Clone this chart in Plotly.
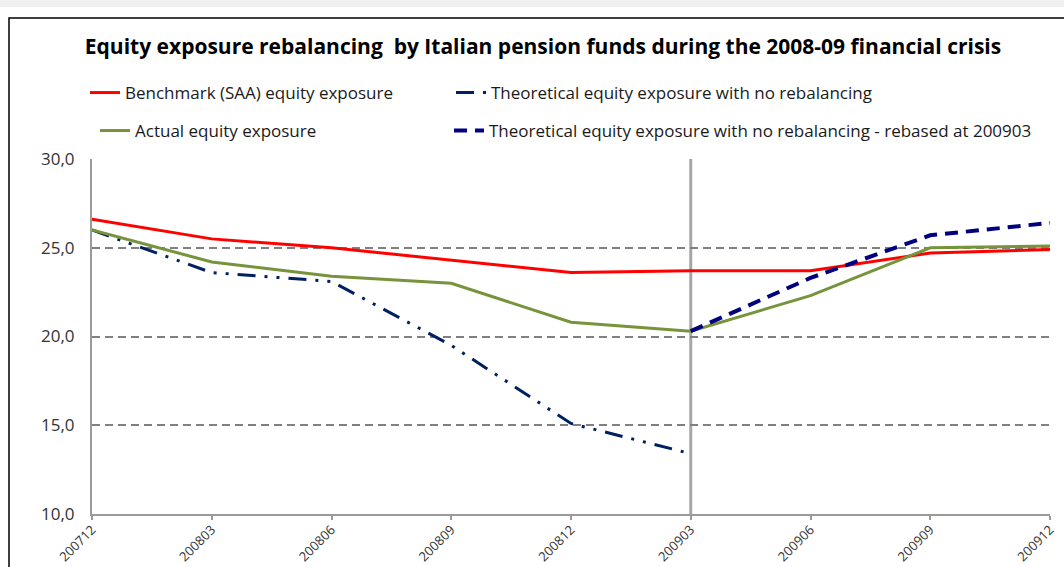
import plotly.graph_objects as go

quarters = ["200712", "200803", "200806", "200809", "200812", "200903", "200906", "200909", "200912"]
benchmark = [26.6, 25.5, 25.0, 24.3, 23.6, 23.7, 23.7, 24.7, 24.9]
actual = [26.0, 24.2, 23.4, 23.0, 20.8, 20.3, 22.3, 25.0, 25.1]
no_rebal = [26.0, 23.6, 23.1, 19.5, 15.1, 13.4, None, None, None]
rebased = [None, None, None, None, None, 20.3, 23.3, 25.7, 26.4]
event_quarter = "200903"

names = [
    "Benchmark (SAA) equity exposure",
    "Theoretical equity exposure with no rebalancing",
    "Actual equity exposure",
    "Theoretical equity exposure with no rebalancing - rebased at 200903",
]

W, H = 1064, 567
FONT = "Open Sans"

def px_x(v):
    return v / W

def px_y(v):
    return 1 - v / H

fig = go.Figure()
fig.add_trace(go.Scatter(x=quarters, y=benchmark, mode="lines", name=names[0],
                         line=dict(color="#ff0000", width=3), legend="legend"))
fig.add_trace(go.Scatter(x=quarters, y=no_rebal, mode="lines", name=names[1],
                         line=dict(color="#002060", width=3, dash="18px,9px,3px,9px,3px,9px"),
                         legend="legend2"))
fig.add_trace(go.Scatter(x=quarters, y=actual, mode="lines", name=names[2],
                         line=dict(color="#77933c", width=3), legend="legend3"))
fig.add_trace(go.Scatter(x=quarters, y=rebased, mode="lines", name=names[3],
                         line=dict(color="#000080", width=4, dash="13px,8px"),
                         legend="legend4"))

legend_common = dict(bgcolor="rgba(0,0,0,0)", xanchor="left", yanchor="middle",
                     font=dict(family=FONT, size=17, color="#1a1a1a"), itemwidth=30,
                     visible=True)

event_index = quarters.index(event_quarter)

fig.update_layout(
    width=W, height=H,
    margin=dict(l=0, r=0, t=0, b=0, autoexpand=False),
    showlegend=True,
    paper_bgcolor="white", plot_bgcolor="white",
    separators=",.",
    title=dict(text="<b>Equity exposure rebalancing  by Italian pension funds during the 2008-09 financial crisis</b>",
               x=px_x(543), xanchor="center", y=px_y(47), yanchor="middle",
               font=dict(family=FONT, size=21, color="#000000")),
    legend=dict(x=px_x(85), y=px_y(93), **legend_common),
    legend2=dict(x=px_x(451), y=px_y(93), **legend_common),
    legend3=dict(x=px_x(95), y=px_y(131), **legend_common),
    legend4=dict(x=px_x(449), y=px_y(131), **legend_common),
    xaxis=dict(domain=[px_x(92), px_x(1050)], type="category", range=[0, len(quarters) - 1],
               showgrid=False, showline=True, linecolor="#9a9a9a", linewidth=2,
               ticks="outside", ticklen=4, tickcolor="#9a9a9a", tickwidth=2,
               tickangle=-45, automargin=False, ticklabelstandoff=-3,
               tickfont=dict(family=FONT, size=13, color="#333333")),
    yaxis=dict(domain=[1 - 514 / H, 1 - 159 / H], range=[10, 30], dtick=5, tickformat=".1f",
               showgrid=True, gridcolor="#808080", griddash="8px,5px", gridwidth=2,
               showline=True, linecolor="#9a9a9a", linewidth=2, ticks="", zeroline=False,
               automargin=False, ticklabelstandoff=12,
               tickfont=dict(family=FONT, size=17, color="#333333")),
    shapes=[
        dict(type="rect", xref="paper", yref="paper", x0=0, x1=1, y0=px_y(7), y1=1,
             fillcolor="#f0f0f0", line=dict(width=0), layer="below"),
        dict(type="rect", xref="paper", yref="paper", x0=px_x(9), x1=1.05, y0=-0.1, y1=px_y(18),
             fillcolor="rgba(0,0,0,0)", line=dict(color="#000000", width=1.5)),
        dict(type="line", xref="x", yref="y", x0=event_index, x1=event_index, y0=10, y1=30,
             line=dict(color="#a6a6a6", width=3), layer="below"),
    ],
)

fig.write_html("out.html", config={"displayModeBar": False},
               post_script="document.body.style.margin='0';document.body.style.overflow='hidden';")
